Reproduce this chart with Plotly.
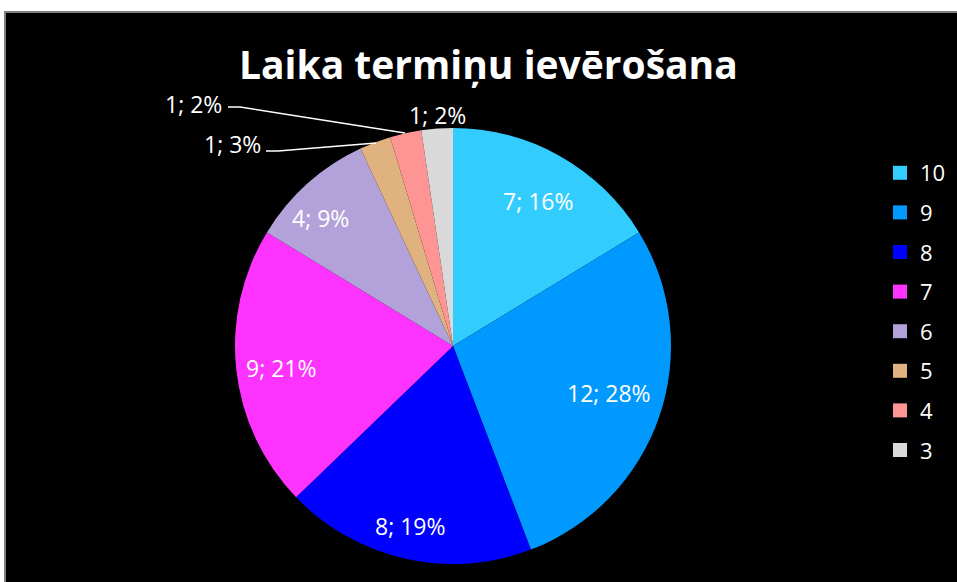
import plotly.graph_objects as go

categories = ["10", "9", "8", "7", "6", "5", "4", "3"]
values = [7, 12, 8, 9, 4, 1, 1, 1]
percent_labels = ["16%", "28%", "19%", "21%", "9%", "3%", "2%", "2%"]
colors = ["#33CCFF", "#0099FF", "#0000FF", "#FF33FF", "#B3A2DA", "#DFB27F", "#FF9494", "#D9D9D9"]
title_text = "Laika termiņu ievērošana"

W, H = 957, 582
def px(x):
    return x / W
def py(y):
    return 1 - y / H

FONT = "Open Sans"
labels_txt = [f"{v}; {p}" for v, p in zip(values, percent_labels)]

# label anchor points (pixels), in category order
label_pos = [(538, 201), (609, 393), (410, 526), (281, 368), (320, 218),
             (232, 144), (193, 104), (437, 115)]

fig = go.Figure()
fig.add_trace(go.Pie(
    labels=categories,
    values=values,
    textinfo="none",
    sort=False,
    direction="clockwise",
    rotation=0,
    marker=dict(colors=colors, line=dict(width=0)),
    domain=dict(x=[px(235), px(671)], y=[py(564), py(128)]),
    showlegend=False,
    hoverinfo="label+value+percent",
))

# legend entries (one per category, same colours as the slices)
for cat, col in zip(categories, colors):
    fig.add_trace(go.Scatter(
        x=[None], y=[None], mode="markers", name=cat, legendgroup=cat,
        marker=dict(symbol="square", size=14, color=col), showlegend=True,
    ))

annotations = [
    dict(text=t, x=px(x), y=py(y), xref="paper", yref="paper", showarrow=False,
         font=dict(family=FONT, size=23, color="white"), xanchor="center", yanchor="middle")
    for t, (x, y) in zip(labels_txt, label_pos)
]
annotations.append(dict(text=f"<b>{title_text}</b>", x=px(488), y=py(63), xref="paper", yref="paper",
                        showarrow=False, font=dict(family=FONT, size=39, color="white"),
                        xanchor="center", yanchor="middle"))

shapes = [
    dict(type="rect", xref="paper", yref="paper", x0=px(5), x1=px(962), y0=py(590), y1=py(12),
         fillcolor="black", line=dict(color="#808080", width=2), layer="below"),
    dict(type="path", xref="paper", yref="paper",
         path=f"M {px(228)},{py(107)} L {px(240)},{py(107)} L {px(405)},{py(133)}",
         line=dict(color="white", width=1.5)),
    dict(type="path", xref="paper", yref="paper",
         path=f"M {px(266)},{py(151)} L {px(278)},{py(151)} L {px(376)},{py(143)}",
         line=dict(color="white", width=1.5)),
]

fig.update_layout(
    width=W, height=H,
    margin=dict(l=0, r=0, t=0, b=0),
    paper_bgcolor="white",
    plot_bgcolor="rgba(0,0,0,0)",
    xaxis=dict(visible=False),
    yaxis=dict(visible=False),
    annotations=annotations,
    shapes=shapes,
    legend=dict(x=px(880), y=py(152), xanchor="left", yanchor="top",
                font=dict(family=FONT, size=22, color="white"),
                traceorder="grouped", tracegroupgap=8,
                bgcolor="rgba(0,0,0,0)", itemwidth=30),
)

fig.write_html("out.html", config={"displayModeBar": False},
               post_script="document.body.style.margin='0';document.body.style.overflow='hidden';")
